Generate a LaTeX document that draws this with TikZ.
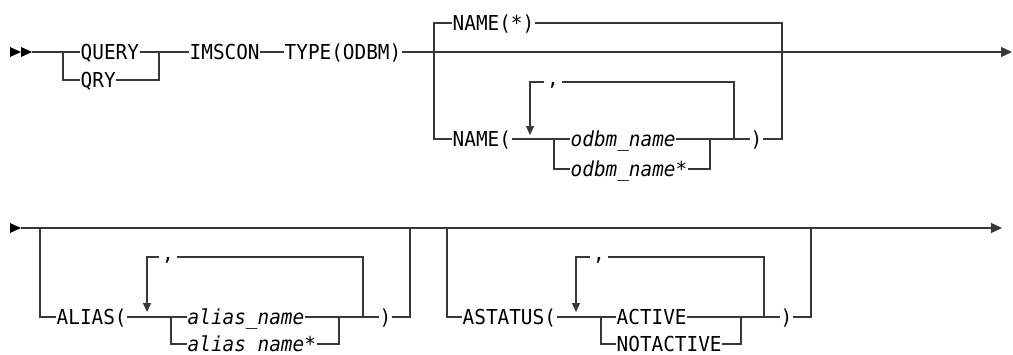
\documentclass[tikz,border=0pt]{standalone}
\usepackage{fontspec}
\usetikzlibrary{arrows.meta}
\newfontfamily\railfont[FakeStretch=0.94]{DejaVu Sans Mono}
\newcommand\kwf{\railfont\fontsize{20.6pt}{24pt}\selectfont}
\newcommand\varf{\railfont\itshape\fontsize{20.6pt}{24pt}\selectfont}
\tikzset{
  rail/.style={line width=1.2pt, draw=black!78},
  kw/.style={font=\kwf, inner xsep=0.5pt, inner ysep=0pt, text height=15pt, text depth=0pt, anchor=west},
  var/.style={kw, font=\varf},
  sepc/.style={font=\kwf, inner xsep=2.5pt, inner ysep=0pt, text height=3pt, text depth=5pt, anchor=north},
  endarr/.style={rail, -{Triangle[length=11pt,width=10pt]}},
  looparr/.style={rail, -{Triangle[length=9pt,width=8pt]}},
  startmark/.style={fill=black}
}
\begin{document}
\begin{tikzpicture}[x=1pt,y=-1pt]
\useasboundingbox (0,0) rectangle (1013,354);
% ---------- row 1 ----------
\node[kw] (query) at (80,52) {QUERY};
\node[kw] (qry) at (80,80) {QRY};
\node[kw] (imscon) at (189,52) {IMSCON};
\node[kw] (type) at (284,52) {TYPE(ODBM)};
\node[kw] (namestar) at (452,23) {NAME(*)};
\node[kw] (namep) at (452,139) {NAME(};
\node[var] (odbm) at (570,139) {odbm\_name};
\node[var] (odbms) at (570,169) {odbm\_name*};
\node[kw] (rp1) at (750,139) {)};
\node[sepc] (cm1) at (553,82) {,};

\coordinate (st1) at (32,52);
\coordinate (j1) at (63,52); \coordinate (j1b) at (63,80);
\coordinate (j2) at (159,52); \coordinate (j2b) at (159,80);
\coordinate (end1) at (1012,52);
\coordinate (k1t) at (434,23); \coordinate (k1b) at (434,139);
\coordinate (m1t) at (782,23); \coordinate (m1b) at (782,139);
\coordinate (c1) at (554,139); \coordinate (c1b) at (554,169);
\coordinate (d1) at (710,139); \coordinate (d1b) at (710,169);
\coordinate (l1r) at (734,139); \coordinate (l1rt) at (734,82);
\coordinate (l1l) at (530,82); \coordinate (l1a) at (530,135);

\fill[startmark] (st1) -- ++(-11,-5) -- ++(0,10) -- cycle;
\fill[startmark] (21,52) -- ++(-11,-5) -- ++(0,10) -- cycle;
\draw[rail] (st1) -- (query.west);
\draw[rail] (j1) -- (j1b) -- (qry.west);
\draw[rail] (query.east) -- (imscon.west);
\draw[rail] (qry.east) -- (j2b) -- (j2);
\draw[rail] (imscon.east) -- (type.west);
\draw[endarr] (type.east) -- (end1);
\draw[rail] (namestar.west) -- (k1t) -- (k1b) -- (namep.west);
\draw[rail] (namestar.east) -- (m1t) -- (m1b) -- (rp1.east);
\draw[rail] (namep.east) -- (odbm.west);
\draw[rail] (c1) -- (c1b) -- (odbms.west);
\draw[rail] (odbm.east) -- (rp1.west);
\draw[rail] (odbms.east) -- (d1b) -- (d1);
\draw[rail] (l1r) -- (l1rt) -- (cm1.north east);
\draw[looparr] (cm1.north west) -- (l1l) -- (l1a);

% ---------- row 2 ----------
\node[kw] (alias) at (56,317) {ALIAS(};
\node[var] (aname) at (187,317) {alias\_name};
\node[var] (anames) at (187,344) {alias\_name*};
\node[kw] (rp2) at (379,317) {)};
\node[sepc] (cm2) at (168,257) {,};
\node[kw] (astatus) at (462,317) {ASTATUS(};
\node[kw] (active) at (616,317) {ACTIVE};
\node[kw] (notactive) at (616,344) {NOTACTIVE};
\node[kw] (rp3) at (780,317) {)};
\node[sepc] (cm3) at (599,257) {,};

\coordinate (st2) at (21,228);
\coordinate (end2) at (1002,228);
\coordinate (a1t) at (40,228); \coordinate (a1b) at (40,317);
\coordinate (a2t) at (410,228); \coordinate (a2b) at (410,317);
\coordinate (c2) at (171,317); \coordinate (c2b) at (171,344);
\coordinate (d2) at (339,317); \coordinate (d2b) at (339,344);
\coordinate (l2r) at (363,317); \coordinate (l2rt) at (363,257);
\coordinate (l2l) at (147,257); \coordinate (l2a) at (147,312);
\coordinate (b1t) at (447,228); \coordinate (b1b) at (447,317);
\coordinate (b2t) at (811,228); \coordinate (b2b) at (811,317);
\coordinate (c3) at (601,317); \coordinate (c3b) at (601,344);
\coordinate (d3) at (741,317); \coordinate (d3b) at (741,344);
\coordinate (l3r) at (764,317); \coordinate (l3rt) at (764,257);
\coordinate (l3l) at (576,257); \coordinate (l3a) at (576,312);

\fill[startmark] (st2) -- ++(-11,-5) -- ++(0,10) -- cycle;
\draw[endarr] (st2) -- (end2);
\draw[rail] (a1t) -- (a1b) -- (alias.west);
\draw[rail] (alias.east) -- (aname.west);
\draw[rail] (c2) -- (c2b) -- (anames.west);
\draw[rail] (aname.east) -- (rp2.west);
\draw[rail] (anames.east) -- (d2b) -- (d2);
\draw[rail] (rp2.east) -- (a2b) -- (a2t);
\draw[rail] (l2r) -- (l2rt) -- (cm2.north east);
\draw[looparr] (cm2.north west) -- (l2l) -- (l2a);

\draw[rail] (b1t) -- (b1b) -- (astatus.west);
\draw[rail] (astatus.east) -- (active.west);
\draw[rail] (c3) -- (c3b) -- (notactive.west);
\draw[rail] (active.east) -- (rp3.west);
\draw[rail] (notactive.east) -- (d3b) -- (d3);
\draw[rail] (rp3.east) -- (b2b) -- (b2t);
\draw[rail] (l3r) -- (l3rt) -- (cm3.north east);
\draw[looparr] (cm3.north west) -- (l3l) -- (l3a);
\end{tikzpicture}
\end{document}
